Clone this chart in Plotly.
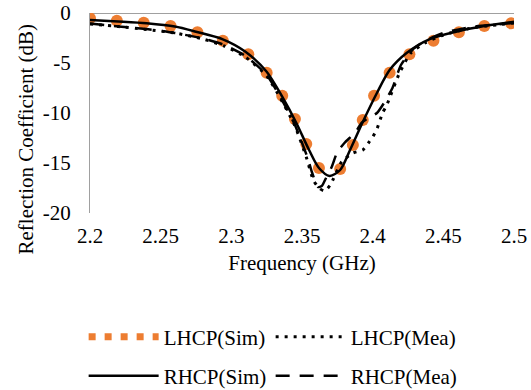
import plotly.graph_objects as go

# LHCP (simulated) - markers
freq_lhcp_sim = [2.200, 2.219, 2.238, 2.257, 2.276, 2.294, 2.312, 2.325, 2.336, 2.345, 2.353,
                 2.362, 2.377, 2.386, 2.393, 2.401, 2.412, 2.426, 2.443, 2.461, 2.479, 2.498]
lhcp_sim = [-0.53, -0.77, -0.97, -1.30, -1.93, -2.77, -4.13, -5.97, -8.27, -10.6, -13.1,
            -15.5, -15.6, -13.2, -10.7, -8.27, -5.97, -4.13, -2.77, -1.93, -1.30, -1.03]

# LHCP (measured) - dotted
freq_lhcp_mea = [2.200, 2.220, 2.240, 2.260, 2.280, 2.295, 2.310, 2.325, 2.335, 2.345, 2.353,
                 2.358, 2.362, 2.366, 2.370, 2.378, 2.386, 2.393, 2.397, 2.400, 2.403, 2.405,
                 2.407, 2.410, 2.419, 2.427, 2.437, 2.450, 2.470, 2.500]
lhcp_mea = [-1.10, -1.35, -1.65, -2.00, -2.60, -3.30, -4.40, -6.30, -8.60, -11.3, -14.4,
            -16.7, -17.5, -17.8, -17.2, -14.9, -14.0, -13.7, -13.0, -12.4, -11.6, -10.8,
            -10.0, -9.2, -6.0, -4.0, -3.0, -2.2, -1.5, -1.0]

# RHCP (simulated) - solid
freq_rhcp_sim = [2.200, 2.220, 2.240, 2.260, 2.275, 2.294, 2.310, 2.325, 2.336, 2.346, 2.355,
                 2.362, 2.3695, 2.377, 2.384, 2.393, 2.403, 2.412, 2.424, 2.440, 2.459, 2.479, 2.500]
rhcp_sim = [-0.70, -0.85, -1.03, -1.35, -1.87, -2.63, -3.87, -5.87, -8.37, -11.0, -13.7,
            -15.5, -16.3, -15.7, -13.7, -10.9, -8.0, -5.7, -4.0, -2.63, -1.87, -1.30, -0.87]

# RHCP (measured) - dashed
freq_rhcp_mea = [2.200, 2.220, 2.240, 2.260, 2.280, 2.295, 2.310, 2.325, 2.335, 2.345, 2.354,
                 2.357, 2.3612, 2.364, 2.367, 2.371, 2.375, 2.380, 2.388, 2.392, 2.397, 2.403,
                 2.408, 2.414, 2.420, 2.428, 2.437, 2.450, 2.470, 2.500]
rhcp_mea = [-1.05, -1.35, -1.60, -2.00, -2.55, -3.20, -4.30, -6.20, -8.50, -11.2, -14.5,
            -15.9, -17.4, -17.3, -16.5, -15.4, -13.9, -13.0, -11.9, -11.0, -10.5, -10.0,
            -9.0, -7.5, -5.2, -3.7, -2.8, -2.0, -1.4, -1.0]

x_ticks = [2.2, 2.25, 2.3, 2.35, 2.4, 2.45, 2.5]
x_tick_labels = ["2.2", "2.25", "2.3", "2.35", "2.4", "2.45", "2.5"]
y_ticks = [0, -5, -10, -15, -20]
y_tick_labels = ["0", "-5", "-10", "-15", "-20"]

ORANGE = "#ED7D31"
FONT = "'Liberation Serif', 'Times New Roman', Times, 'DejaVu Serif', serif"

fig = go.Figure()

# LHCP(Sim) markers (legend via a proxy entry)
fig.add_trace(go.Scatter(x=freq_lhcp_sim, y=lhcp_sim, mode="markers", name="LHCP(Sim)",
                         marker=dict(color=ORANGE, size=12), showlegend=False,
                         legendgroup="lsim"))
fig.add_trace(go.Scatter(x=[None], y=[None], mode="lines", name="LHCP(Sim)",
                         line=dict(color=ORANGE, width=7, dash="7px,9px"),
                         legendgroup="lsim", legend="legend"))
fig.add_trace(go.Scatter(x=freq_lhcp_mea, y=lhcp_mea, mode="lines", name="LHCP(Mea)",
                         line=dict(color="black", width=3, dash="3px,6px", shape="spline", smoothing=0.6),
                         legend="legend"))
fig.add_trace(go.Scatter(x=freq_rhcp_sim, y=rhcp_sim, mode="lines", name="RHCP(Sim)",
                         line=dict(color="black", width=2.5, shape="spline", smoothing=0.8),
                         legend="legend2"))
fig.add_trace(go.Scatter(x=freq_rhcp_mea, y=rhcp_mea, mode="lines", name="RHCP(Mea)",
                         line=dict(color="black", width=2.5, dash="14px,10px", shape="spline", smoothing=0.6),
                         legend="legend2"))

legend_common = dict(orientation="h", xanchor="left", yanchor="middle",
                     font=dict(family=FONT, size=21, color="black"),
                     itemwidth=70, entrywidth=102, entrywidthmode="pixels",
                     bgcolor="rgba(0,0,0,0)", borderwidth=0)

fig.update_layout(
    width=531, height=390,
    margin=dict(l=90, r=17, t=13, b=177, autoexpand=False),
    paper_bgcolor="white", plot_bgcolor="white",
    font=dict(family=FONT, size=21, color="black"),
    xaxis=dict(range=[2.2, 2.5], tickvals=x_ticks, ticktext=x_tick_labels,
               showgrid=False, zeroline=False, showline=False, ticks="",
               ticklabelstandoff=8,
               title=dict(text="Frequency (GHz)", font=dict(family=FONT, size=21), standoff=8)),
    yaxis=dict(range=[-20, 0], tickvals=y_ticks, ticktext=y_tick_labels,
               showgrid=False, zeroline=True, zerolinecolor="#a0a0a0", zerolinewidth=1.3,
               showline=True, linecolor="#a0a0a0", linewidth=1.3, ticks="",
               ticklabelstandoff=14),
    legend=dict(x=-0.015, y=-0.62, **legend_common),
    legend2=dict(x=-0.015, y=-0.815, **legend_common),
    annotations=[dict(text="Reflection Coefficient (dB)", textangle=-90, showarrow=False,
                      xref="paper", yref="paper", x=(25 - 90) / 424, y=(213 - 139.5) / 200,
                      xanchor="center", yanchor="middle",
                      font=dict(family=FONT, size=21, color="black"))],
)

fig.write_html("out.html")
